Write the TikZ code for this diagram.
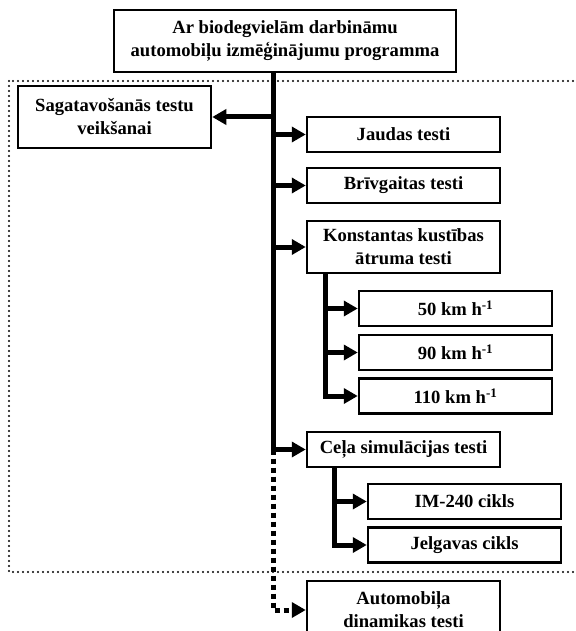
\documentclass[tikz,border=0pt]{standalone}
\usepackage{fontspec}
\setmainfont{Liberation Serif}
\usetikzlibrary{arrows.meta,positioning}

\tikzset{
    box/.style={draw, line width=2.5pt, fill=white, inner sep=0pt,
        font=\fontsize{18.6}{23}\selectfont\bfseries, align=center,
        minimum width=193pt, minimum height=35pt},
    branch/.style={line width=5pt, -{Triangle[length=14pt,width=15pt]}},
    dotbranch/.style={branch, dash pattern=on 5pt off 4pt},
    frame/.style={line width=2.4pt, line cap=round, dash pattern=on 0pt off 5pt}
}

\begin{document}
\begin{tikzpicture}[x=1pt,y=-1pt]
    \useasboundingbox (0,0) rectangle (575,631);

    % dotted frame round the tests
    \draw[frame] (9,81) rectangle (590,572);

    % boxes
    \node[box, minimum width=342pt, minimum height=62pt] (prog) at (285,41)
        {Ar biodegvielām darbināmu\\automobiļu izmēģinājumu programma};
    \node[box, minimum height=62pt] (sag) at (114.5,117) {Sagatavošanās testu\\veikšanai};
    \node[box] (jaudas) at (403.5,134.5) {Jaudas testi};
    \node[box] (briv) at (403.5,185.5) {Brīvgaitas testi};
    \node[box, minimum height=52pt] (konst) at (403.5,247) {Konstantas kustības\\ātruma testi};
    \node[box] (k50) at (455.5,308.5) {50 km h\textsuperscript{-1}};
    \node[box] (k90) at (455.5,352.5) {90 km h\textsuperscript{-1}};
    \node[box] (k110) at (455.5,396) {110 km h\textsuperscript{-1}};
    \node[box] (cela) at (403.5,449.5) {Ceļa simulācijas testi};
    \node[box] (im) at (464.5,501.5) {IM-240 cikls};
    \node[box] (jelg) at (464.5,545) {Jelgavas cikls};
    \node[box, minimum height=58pt] (auto) at (403.5,610) {Automobiļa\\dinamikas testi};

    % trunks
    \coordinate (trunk) at (273,0);
    \coordinate (ktrunk) at (325,0);
    \coordinate (ctrunk) at (334,0);

    \draw[branch] (prog.south -| trunk) |- (cela.west);
    \draw[dotbranch] (trunk |- cela.west) |- (auto.west);
    \draw[branch] (trunk |- sag.east) -- (sag.east);
    \foreach \n in {jaudas,briv,konst}
        \draw[branch] (trunk |- \n.west) -- (\n.west);

    \draw[branch] (konst.south -| ktrunk) |- (k110.west);
    \foreach \n in {k50,k90}
        \draw[branch] (ktrunk |- \n.west) -- (\n.west);

    \draw[branch] (cela.south -| ctrunk) |- (jelg.west);
    \draw[branch] (ctrunk |- im.west) -- (im.west);

\end{tikzpicture}
\end{document}
